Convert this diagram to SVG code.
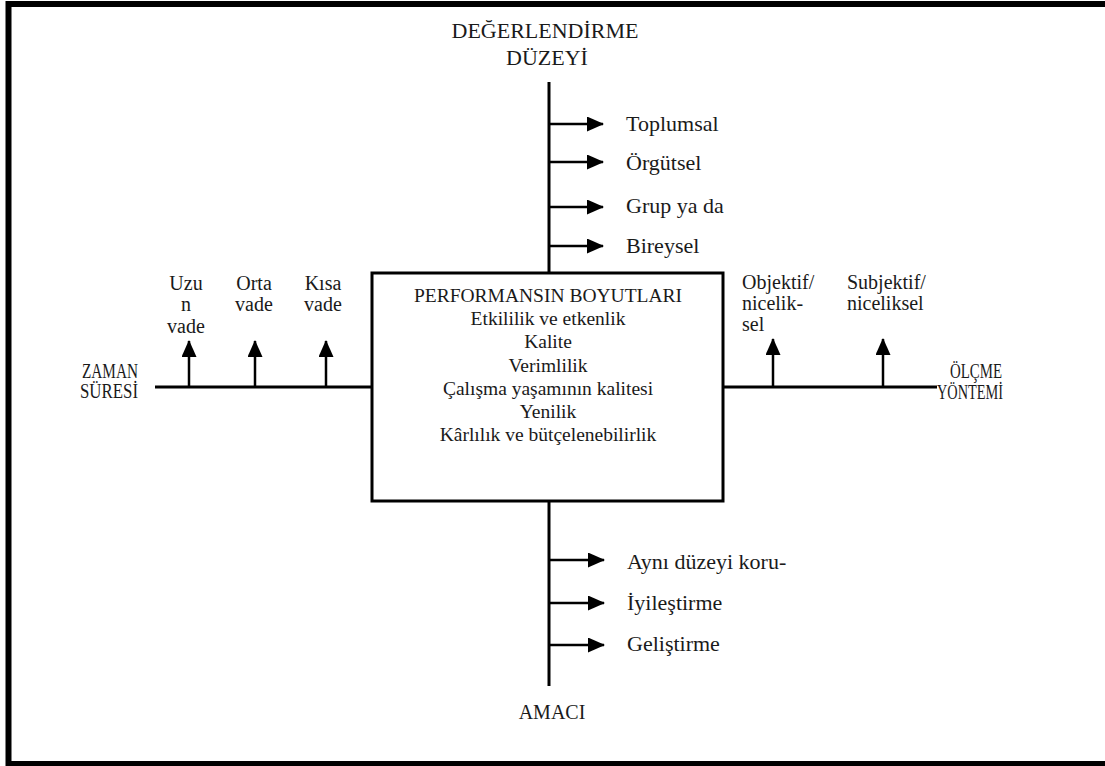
<svg xmlns="http://www.w3.org/2000/svg" width="1105" height="766" viewBox="0 0 1105 766">
  <style>
    text { font-family: "Liberation Serif", "Times New Roman", serif; fill: #1a1a1a; }
    .lbl { font-size: 20px; }
    .big { font-size: 22px; }
    .box-t { font-size: 19.5px; text-anchor: middle; }
    .axis { stroke: #000; stroke-width: 3; fill: none; }
    .stem { stroke: #000; stroke-width: 2.5; fill: none; marker-end: url(#head); }
    .mid { text-anchor: middle; }
    .end { text-anchor: end; }
  </style>
  <defs>
    <marker id="head" markerUnits="userSpaceOnUse" markerWidth="17" markerHeight="15" refX="16" refY="7.5" orient="auto">
      <path d="M0,0 L17,7.5 L0,15 z" fill="#000"/>
    </marker>
    <clipPath id="cut-left"><rect x="140" y="260" width="240" height="73"/></clipPath>
    <clipPath id="cut-right"><rect x="735" y="260" width="120" height="71"/></clipPath>
  </defs>

  <rect width="1105" height="766" fill="#fff"/>
  <!-- outer frame (runs past the right edge) -->
  <rect x="8.5" y="4" width="1110" height="760" fill="none" stroke="#000" stroke-width="6"/>

  <g id="connectors">
    <!-- main axes -->
    <line class="axis" x1="549" y1="82" x2="549" y2="273"/>
    <line class="axis" x1="549" y1="501" x2="549" y2="686"/>
    <line class="axis" x1="155" y1="387" x2="372" y2="387"/>
    <line class="axis" x1="723" y1="387" x2="937" y2="387"/>
    <!-- evaluation level branches -->
    <line class="stem" x1="549" y1="124" x2="603" y2="124"/>
    <line class="stem" x1="549" y1="162" x2="603" y2="162"/>
    <line class="stem" x1="549" y1="207" x2="603" y2="207"/>
    <line class="stem" x1="549" y1="246" x2="603" y2="246"/>
    <!-- purpose branches -->
    <line class="stem" x1="549" y1="560" x2="604" y2="560"/>
    <line class="stem" x1="549" y1="603" x2="604" y2="603"/>
    <line class="stem" x1="549" y1="645" x2="604" y2="645"/>
    <!-- time span ticks -->
    <line class="stem" x1="189" y1="387" x2="189" y2="341"/>
    <line class="stem" x1="255" y1="387" x2="255" y2="341"/>
    <line class="stem" x1="326" y1="387" x2="326" y2="341"/>
    <!-- measurement ticks -->
    <line class="stem" x1="773" y1="387" x2="773" y2="339"/>
    <line class="stem" x1="883" y1="387" x2="883" y2="339"/>
  </g>

  <g id="center-box">
    <rect x="372" y="273" width="351" height="228" fill="#fff" stroke="#000" stroke-width="3"/>
    <text class="box-t" x="548" y="302">PERFORMANSIN BOYUTLARI</text>
    <text class="box-t" x="548" y="325">Etkililik ve etkenlik</text>
    <text class="box-t" x="548" y="348">Kalite</text>
    <text class="box-t" x="548" y="372">Verimlilik</text>
    <text class="box-t" x="548" y="395">Çalışma yaşamının kalitesi</text>
    <text class="box-t" x="548" y="418">Yenilik</text>
    <text class="box-t" x="548" y="441">Kârlılık ve bütçelenebilirlik</text>
  </g>

  <g id="evaluation-level">
    <text class="big mid" x="545" y="38">DEĞERLENDİRME</text>
    <text class="big mid" x="547" y="65">DÜZEYİ</text>
    <text class="big" x="626" y="131">Toplumsal</text>
    <text class="big" x="626" y="170">Örgütsel</text>
    <text class="big" x="626" y="213">Grup ya da</text>
    <text class="big" x="626" y="253">Bireysel</text>
  </g>

  <g id="time-span">
    <text class="lbl end" x="138" y="378" textLength="56" lengthAdjust="spacingAndGlyphs">ZAMAN</text>
    <text class="lbl end" x="138" y="398" textLength="58" lengthAdjust="spacingAndGlyphs">SÜRESİ</text>
    <g clip-path="url(#cut-left)">
      <text class="lbl mid" x="186" y="290">Uzu</text>
      <text class="lbl mid" x="186" y="311">n</text>
      <text class="lbl mid" x="186" y="333">vade</text>
    </g>
    <text class="lbl mid" x="254" y="290">Orta</text>
    <text class="lbl mid" x="254" y="311">vade</text>
    <text class="lbl mid" x="323" y="290">Kısa</text>
    <text class="lbl mid" x="323" y="311">vade</text>
  </g>

  <g id="measurement">
    <text class="lbl" x="950" y="378" textLength="52" lengthAdjust="spacingAndGlyphs">ÖLÇME</text>
    <text class="lbl" x="937" y="399" textLength="66" lengthAdjust="spacingAndGlyphs">YÖNTEMİ</text>
    <g clip-path="url(#cut-right)">
      <text class="lbl" x="742" y="289">Objektif/</text>
      <text class="lbl" x="742" y="310">nicelik-</text>
      <text class="lbl" x="742" y="331">sel</text>
    </g>
    <text class="lbl" x="847" y="289">Subjektif/</text>
    <text class="lbl" x="847" y="310">niceliksel</text>
  </g>

  <g id="purpose">
    <text class="big" x="627" y="569">Aynı düzeyi koru-</text>
    <text class="big" x="627" y="610">İyileştirme</text>
    <text class="big" x="627" y="651">Geliştirme</text>
    <text class="lbl mid" x="552" y="719">AMACI</text>
  </g>
</svg>
